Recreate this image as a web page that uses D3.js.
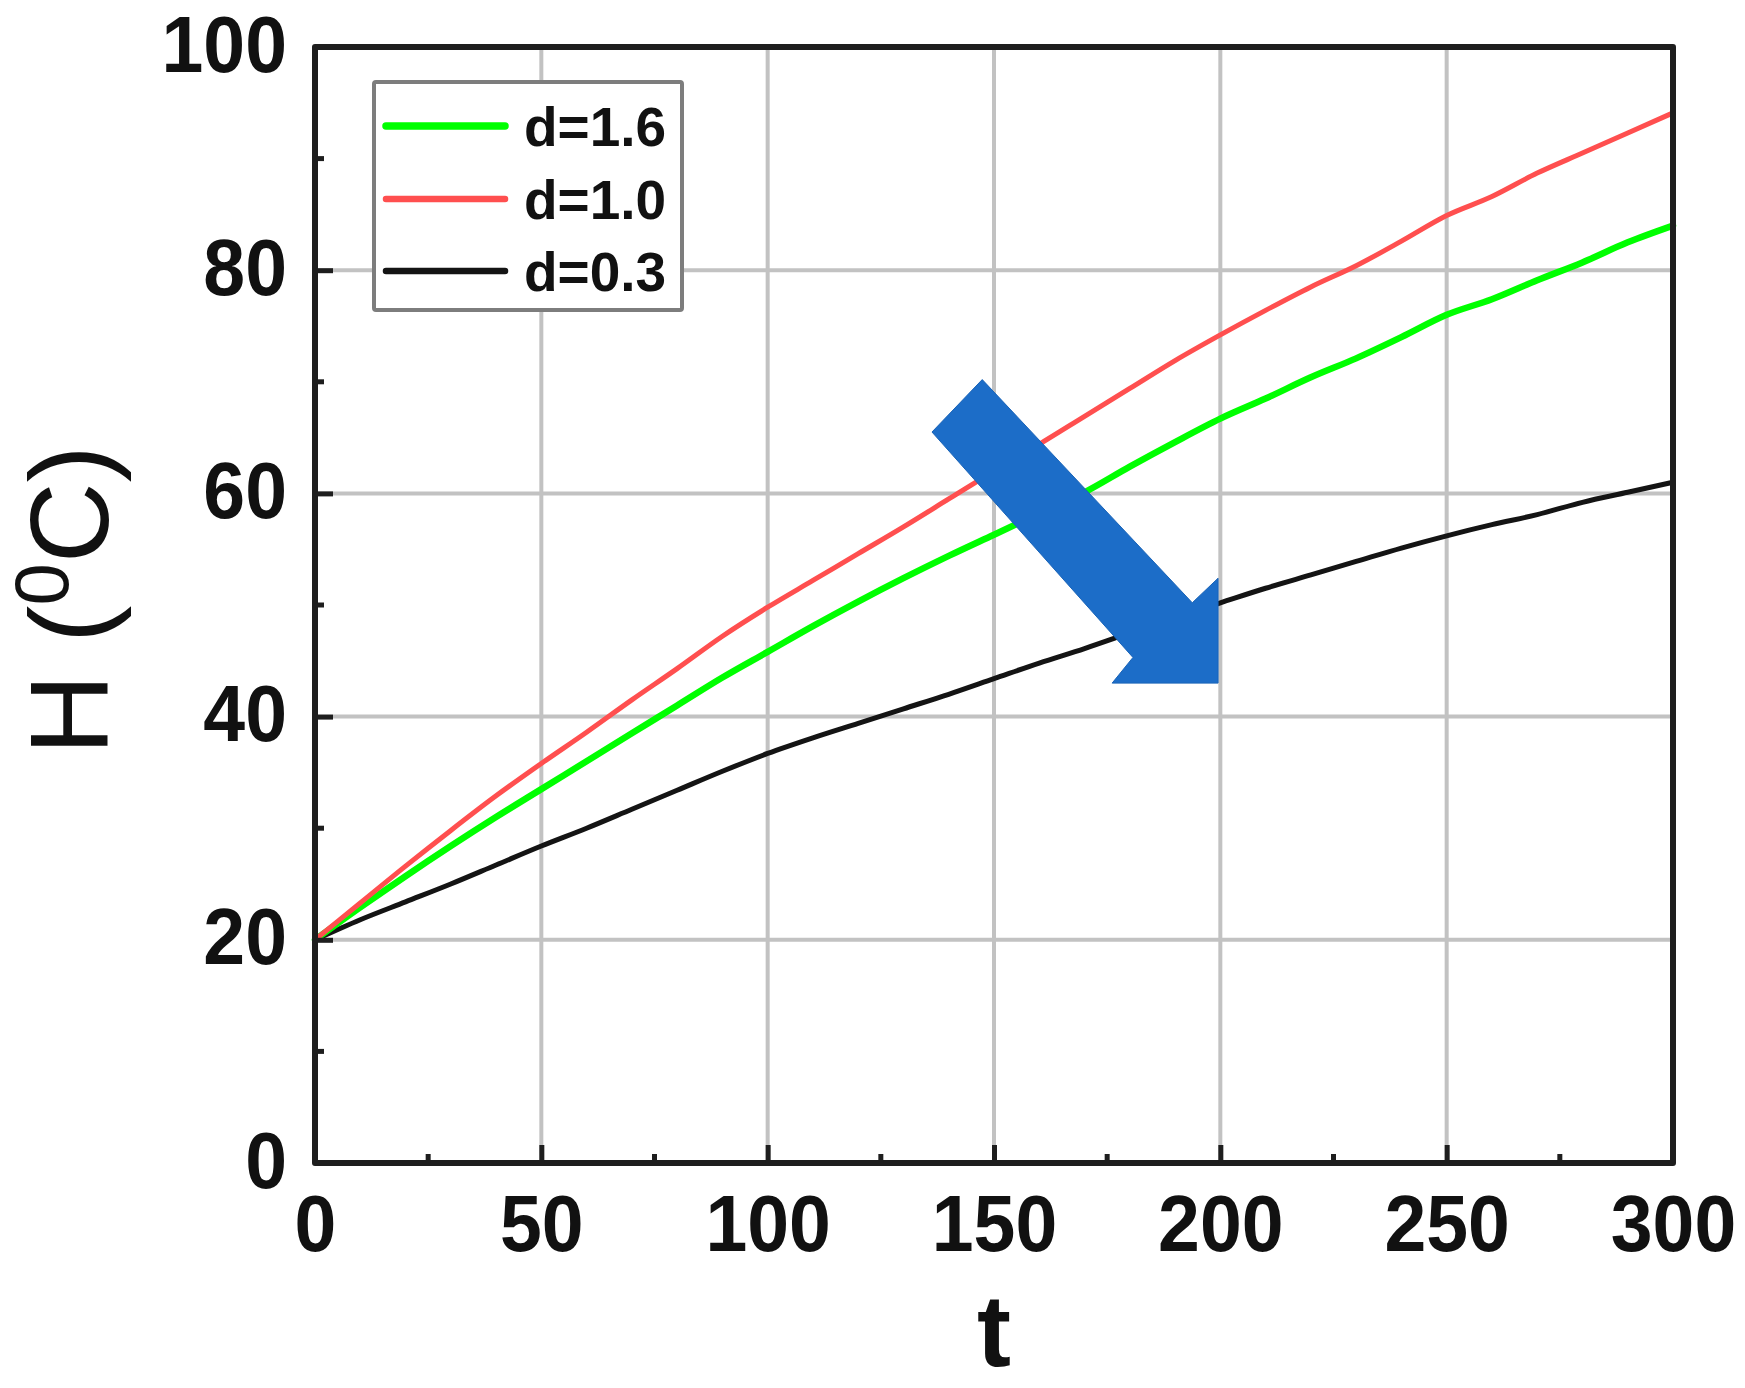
<!DOCTYPE html>
<html><head><meta charset="utf-8">
<script src="https://cdn.jsdelivr.net/npm/d3@7"></script>
<style>html,body{margin:0;padding:0;background:#fff;} svg{display:block;}</style>
</head><body>
<script>
// ---- data ----
const tValues = [0,10,20,30,40,50,60,70,80,90,100,110,120,130,140,150,160,170,180,190,200,210,220,230,240,250,260,270,280,290,300];
const hD16 = [20.0,22.9,25.7,28.4,31.0,33.5,36.0,38.5,41.0,43.5,45.8,48.1,50.3,52.4,54.4,56.3,58.2,60.1,62.4,64.6,66.7,68.5,70.4,72.1,74.0,76.0,77.4,79.1,80.7,82.5,84.0];
const hD10 = [20.0,23.3,26.6,29.8,32.9,35.8,38.6,41.5,44.3,47.2,49.8,52.2,54.6,57.0,59.5,62.0,64.4,66.9,69.4,71.9,74.2,76.4,78.5,80.4,82.6,84.9,86.6,88.7,90.5,92.3,94.1];
const hD03 = [20.0,21.8,23.4,25.0,26.7,28.4,30.0,31.7,33.4,35.1,36.7,38.1,39.4,40.7,42.0,43.4,44.8,46.1,47.5,48.9,50.2,51.5,52.7,53.9,55.1,56.2,57.2,58.1,59.2,60.1,61.0];
const seriesNames = ["d=1.6","d=1.0","d=0.3"];
const seriesColors = ["#00ff00","#ff4f4f","#141414"];
const xTicks = [0,50,100,150,200,250,300];
const xMinorTicks = [25,75,125,175,225,275];
const yTicks = [0,20,40,60,80,100];
const yMinorTicks = [10,30,50,70,90];
const xGrid = [50,100,150,200,250];
const yGrid = [20,40,60,80];
// block arrow annotation, in data units (t, H)
const arrowT = [136.3,147.4,193.8,199.5,199.5,176.1,180.7];
const arrowH = [65.5,70.2,50.2,52.4,43.0,43.0,45.3];
const xTitle = "t";

// ---- layout ----
const W = 1745, H = 1388;
const L = 315, R = 1673, T = 47, B = 1163;
const svg = d3.select("body").append("svg").attr("width", W).attr("height", H)
  .style("background", "#fff");
svg.append("rect").attr("width", W).attr("height", H).attr("fill", "#fff");

const x = d3.scaleLinear().domain([0, 300]).range([L, R]);
const y = d3.scaleLinear().domain([0, 100]).range([B, T]);

// gridlines
const grid = svg.append("g");
grid.selectAll("line.gx").data(xGrid).join("line").attr("class","gx")
  .attr("x1", d => x(d)).attr("x2", d => x(d)).attr("y1", T).attr("y2", B)
  .attr("stroke", "#c2c2c2").attr("stroke-width", 4);
grid.selectAll("line.gy").data(yGrid).join("line").attr("class","gy")
  .attr("y1", d => y(d)).attr("y2", d => y(d)).attr("x1", L).attr("x2", R)
  .attr("stroke", "#c2c2c2").attr("stroke-width", 4);

// curves
const series = [hD16, hD10, hD03];
const widths = [6.5, 5, 5];
const line = d3.line().x((d, i) => x(tValues[i])).y(d => y(d)).curve(d3.curveMonotoneX);
[2, 0, 1].forEach(k => {
  svg.append("path").datum(series[k]).attr("d", line)
    .attr("fill", "none").attr("stroke", seriesColors[k])
    .attr("stroke-width", widths[k]).attr("stroke-linejoin", "round").attr("stroke-linecap", "round");
});

// arrow annotation
svg.append("polygon")
  .attr("points", arrowT.map((t, i) => [x(t), y(arrowH[i])].join(",")).join(" "))
  .attr("fill", "#1c6dc8").attr("stroke", "#1a64b8").attr("stroke-width", 1);

// legend
const lg = svg.append("g");
lg.append("rect").attr("x", 374).attr("y", 82).attr("width", 308).attr("height", 228)
  .attr("fill", "#fff").attr("stroke", "#7d7d7d").attr("stroke-width", 4).attr("rx", 2);
const legY = [126, 199, 271];
const legW = [7.5, 6.5, 6.5];
seriesNames.forEach((name, i) => {
  lg.append("line").attr("x1", 386).attr("x2", 505).attr("y1", legY[i]).attr("y2", legY[i])
    .attr("stroke", seriesColors[i]).attr("stroke-width", legW[i]).attr("stroke-linecap", "round");
  lg.append("text").attr("x", 524).attr("y", legY[i] + 20).text(name)
    .attr("font-family", "'Liberation Sans', Arial, sans-serif").attr("font-weight", "bold")
    .attr("font-size", 55).attr("fill", "#111");
});

// frame
svg.append("rect").attr("x", L).attr("y", T).attr("width", R - L).attr("height", B - T)
  .attr("fill", "none").attr("stroke", "#1e1e1e").attr("stroke-width", 6).attr("stroke-linejoin", "round");

// axes
const fontFam = "'Liberation Sans', Arial, sans-serif";
const xAxis = d3.axisBottom(x).tickValues(xTicks).tickSizeInner(-18).tickSizeOuter(0).tickPadding(0);
const gx = svg.append("g").attr("transform", `translate(0,${B})`).call(xAxis);
gx.select(".domain").remove();
gx.selectAll(".tick line").attr("stroke", "#1e1e1e").attr("stroke-width", 5);
gx.selectAll(".tick text").attr("y", 88).attr("dy", 0)
  .attr("font-family", fontFam).attr("font-weight", "bold").attr("font-size", 80)
  .attr("fill", "#111").attr("transform", "scale(0.94,1)");

const yAxis = d3.axisLeft(y).tickValues(yTicks).tickSizeInner(-18).tickSizeOuter(0).tickPadding(0);
const gy = svg.append("g").attr("transform", `translate(${L},0)`).call(yAxis);
gy.select(".domain").remove();
gy.selectAll(".tick line").attr("stroke", "#1e1e1e").attr("stroke-width", 5);
gy.selectAll(".tick text").attr("x", -29.8).attr("dy", "0.3em")
  .attr("font-family", fontFam).attr("font-weight", "bold").attr("font-size", 80)
  .attr("fill", "#111").attr("transform", "scale(0.94,1)");

// minor ticks
svg.append("g").selectAll("line").data(xMinorTicks).join("line")
  .attr("x1", d => x(d)).attr("x2", d => x(d)).attr("y1", B).attr("y2", B - 9)
  .attr("stroke", "#1e1e1e").attr("stroke-width", 5);
svg.append("g").selectAll("line").data(yMinorTicks).join("line")
  .attr("y1", d => y(d)).attr("y2", d => y(d)).attr("x1", L).attr("x2", L + 9)
  .attr("stroke", "#1e1e1e").attr("stroke-width", 5);

// axis titles
svg.append("text").attr("x", (L + R) / 2).attr("y", 1366).attr("text-anchor", "middle")
  .attr("font-family", fontFam).attr("font-weight", "bold").attr("font-size", 102)
  .attr("fill", "#111").text(xTitle);

const yt = svg.append("text").attr("transform", "translate(108,600) rotate(-90)")
  .attr("text-anchor", "middle").attr("font-family", fontFam).attr("font-size", 112).attr("fill", "#111");
yt.append("tspan").text("H (");
yt.append("tspan").attr("font-size", 76).attr("dy", -40).text("0");
yt.append("tspan").attr("dy", 40).text("C)");
</script>
</body></html>
